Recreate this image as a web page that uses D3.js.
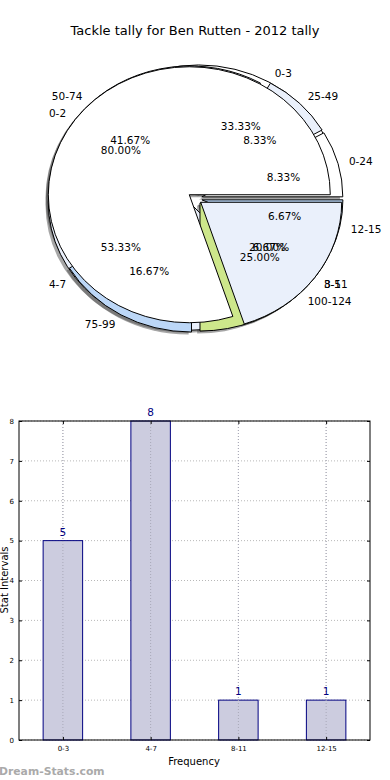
<!DOCTYPE html>
<html><head><meta charset="utf-8">
<script src="https://cdn.jsdelivr.net/npm/d3@7"></script>
<style>html,body{margin:0;padding:0;background:#fff;}svg{display:block;font-family:"DejaVu Sans",sans-serif;}</style>
</head><body><svg id="c" width="390" height="780"></svg>
<script>
// ---- data ----
const titleText = "Tackle tally for Ben Rutten - 2012 tally";
const tackleBins = ["0-3", "4-7", "8-11", "12-15"];
const tackleCounts = [5, 8, 1, 1];
const statBins = ["0-24", "25-49", "50-74", "75-99", "100-124"];
const statCounts = [1, 1, 5, 2, 3];
const thirdBins = ["0-2", "3-5"];
const thirdCounts = [4, 1];
const sliceColors = ["#ffffff", "#eaf0fb", "#dfe6f3", "#bcd7f7", "#cde78b"];
const yTicks = [0, 1, 2, 3, 4, 5, 6, 7, 8];

const svg = d3.select("#c");
svg.append("text").attr("x", 195).attr("y", 30).attr("text-anchor", "middle")
  .attr("dominant-baseline", "central").attr("font-size", 13).attr("fill", "#000").text(titleText);

// ---- pie geometry ----
const O = {x: 195, y: 198.5}, rx = 141, ry = 128, explode = 0.05;
const pies = [
  {bins: tackleBins, vals: tackleCounts},
  {bins: statBins, vals: statCounts},
  {bins: thirdBins, vals: thirdCounts}
];
const arc = d3.arc().innerRadius(0).outerRadius(rx);
pies.forEach(p => {
  const tot = d3.sum(p.vals);
  let a = 0;
  p.slices = p.vals.map((v, i) => {
    const t1 = a, t2 = a + v / tot * 2 * Math.PI; a = t2;
    const tm = (t1 + t2) / 2;
    const cx = O.x + explode * rx * Math.cos(tm), cy = O.y - explode * ry * Math.sin(tm);
    return {label: p.bins[i], v, t1, t2, tm, cx, cy, pct: (v / tot * 100).toFixed(2) + "%",
      color: sliceColors[i % sliceColors.length]};
  });
});
const all = pies.flatMap(p => p.slices);
const pieG = svg.append("g");
function wedgePath(s) { return arc({startAngle: Math.PI / 2 - s.t2, endAngle: Math.PI / 2 - s.t1}); }
// shadows (below all wedges)
pieG.selectAll("path.sh").data(all).join("path").attr("class", "sh")
  .attr("transform", d => `translate(${d.cx - 0.02 * rx},${d.cy + 0.02 * ry}) scale(1,${ry / rx})`)
  .attr("d", wedgePath).attr("fill", "#4d4d4d").attr("fill-opacity", 0.5);
// wedges
pieG.selectAll("path.w").data(all).join("path").attr("class", "w")
  .attr("transform", d => `translate(${d.cx},${d.cy}) scale(1,${ry / rx})`)
  .attr("d", wedgePath).attr("fill", d => d.color).attr("stroke", "#000")
  .attr("stroke-width", 1).attr("vector-effect", "non-scaling-stroke").attr("stroke-linejoin", "round");
// labels
const labR = 1.08, pctR = 0.6;
pieG.selectAll("text.l").data(all).join("text").attr("class", "l")
  .attr("x", d => d.cx + labR * rx * Math.cos(d.tm)).attr("y", d => d.cy - labR * ry * Math.sin(d.tm))
  .attr("text-anchor", d => Math.cos(d.tm) > 0 ? "start" : "end")
  .attr("dominant-baseline", "central").attr("font-size", 10.5).attr("fill", "#000").text(d => d.label);
pieG.selectAll("text.p").data(all).join("text").attr("class", "p")
  .attr("x", d => d.cx + pctR * rx * Math.cos(d.tm)).attr("y", d => d.cy - pctR * ry * Math.sin(d.tm))
  .attr("text-anchor", "middle").attr("dominant-baseline", "central")
  .attr("font-size", 10.5).attr("fill", "#000").text(d => d.pct);

// ---- bar chart ----
const L = 19, R = 370, T = 421, B = 740;
const x = d3.scaleLinear().domain([-0.5, tackleBins.length - 0.5]).range([L, R]);
const y = d3.scaleLinear().domain([0, 8]).range([B, T]);
const bg = svg.append("g");
// grid
bg.selectAll("line.gy").data(yTicks).join("line").attr("x1", L).attr("x2", R)
  .attr("y1", d => y(d)).attr("y2", d => y(d)).attr("stroke", "#b8b8b8").attr("stroke-dasharray", "1,2");
bg.selectAll("line.gx").data(tackleBins).join("line").attr("y1", T).attr("y2", B)
  .attr("x1", (d, i) => x(i)).attr("x2", (d, i) => x(i)).attr("stroke", "#b8b8b8").attr("stroke-dasharray", "1,2");
// bars
const bw = 0.45;
bg.selectAll("rect.b").data(tackleCounts).join("rect")
  .attr("x", (d, i) => x(i - bw / 2)).attr("width", x(bw) - x(0))
  .attr("y", d => y(d)).attr("height", d => y(0) - y(d))
  .attr("fill", "#ccccdf").attr("stroke", "#000080").attr("stroke-width", 1);
bg.selectAll("line.gx2").data(tackleBins).join("line").attr("y1", T).attr("y2", B)
  .attr("x1", (d, i) => x(i)).attr("x2", (d, i) => x(i)).attr("stroke", "#a8a8b8").attr("stroke-dasharray", "1,2");
bg.selectAll("text.v").data(tackleCounts).join("text")
  .attr("x", (d, i) => x(i)).attr("y", d => y(d) - 9).attr("text-anchor", "middle")
  .attr("dominant-baseline", "central").attr("font-size", 10.5).attr("fill", "#000080").text(d => d);
// frame
bg.append("rect").attr("x", L).attr("y", T).attr("width", R - L).attr("height", B - T)
  .attr("fill", "none").attr("stroke", "#000").attr("stroke-width", 1);
// axes ticks
const yAxis = d3.axisLeft(y).tickValues(yTicks).tickSize(-3).tickPadding(5);
const ya = bg.append("g").attr("transform", `translate(${L},0)`).call(yAxis);
const ya2 = bg.append("g").attr("transform", `translate(${R},0)`).call(d3.axisRight(y).tickValues(yTicks).tickSize(-3).tickFormat(""));
const xAxis = d3.axisBottom(x).tickValues(d3.range(tackleBins.length)).tickFormat(i => tackleBins[i]).tickSize(-3).tickPadding(6);
const xa = bg.append("g").attr("transform", `translate(0,${B})`).call(xAxis);
const xa2 = bg.append("g").attr("transform", `translate(0,${T})`).call(d3.axisTop(x).tickValues(d3.range(tackleBins.length)).tickSize(-3).tickFormat(""));
[ya, ya2, xa, xa2].forEach(g => { g.select(".domain").remove(); g.selectAll("line").attr("stroke", "#000"); g.selectAll("text").attr("font-size", 7).attr("fill", "#000").attr("font-family", "DejaVu Sans"); });
svg.append("text").attr("x", 194).attr("y", 761).attr("text-anchor", "middle").attr("dominant-baseline", "central")
  .attr("font-size", 10).text("Frequency");
svg.append("text").attr("transform", "translate(4,580) rotate(-90)").attr("text-anchor", "middle")
  .attr("dominant-baseline", "central").attr("font-size", 10).text("Stat Intervals");
svg.append("text").attr("x", -1).attr("y", 771).attr("dominant-baseline", "central")
  .attr("font-size", 10.8).attr("font-weight", "bold").attr("fill", "#aaaaaa").text("Dream-Stats.com");
</script></body></html>
